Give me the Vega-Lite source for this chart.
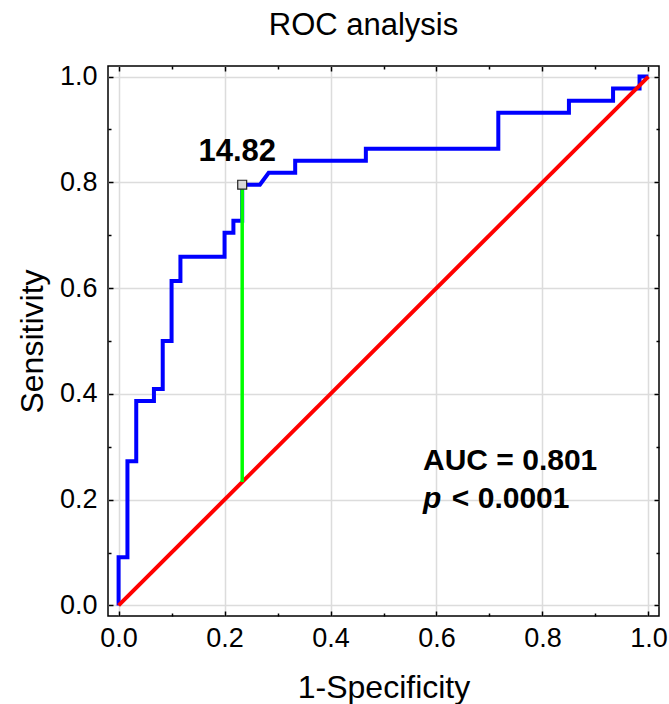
{
  "$schema": "https://vega.github.io/schema/vega-lite/v6.json",
  "width": 551,
  "height": 550,
  "autosize": {"type": "none"},
  "padding": {"left": 108, "top": 66, "right": 10, "bottom": 88},
  "background": "white",
  "title": {
    "text": "ROC analysis",
    "font": "Liberation Sans",
    "fontSize": 31,
    "fontWeight": "normal",
    "color": "black",
    "anchor": "middle",
    "baseline": "alphabetic",
    "offset": -3,
    "dx": -20
  },
  "config": {
    "view": {"stroke": "black", "strokeWidth": 1.5},
    "font": "Liberation Sans"
  },
  "datasets": {
    "roc": [
      {"i": 0, "fpr": 0, "tpr": 0},
      {"i": 1, "fpr": 0, "tpr": 0.0909},
      {"i": 2, "fpr": 0.0167, "tpr": 0.0909},
      {"i": 3, "fpr": 0.0167, "tpr": 0.2727},
      {"i": 4, "fpr": 0.0333, "tpr": 0.2727},
      {"i": 5, "fpr": 0.0333, "tpr": 0.3864},
      {"i": 6, "fpr": 0.0667, "tpr": 0.3864},
      {"i": 7, "fpr": 0.0667, "tpr": 0.4091},
      {"i": 8, "fpr": 0.0833, "tpr": 0.4091},
      {"i": 9, "fpr": 0.0833, "tpr": 0.5},
      {"i": 10, "fpr": 0.1, "tpr": 0.5},
      {"i": 11, "fpr": 0.1, "tpr": 0.6136},
      {"i": 12, "fpr": 0.1167, "tpr": 0.6136},
      {"i": 13, "fpr": 0.1167, "tpr": 0.6591},
      {"i": 14, "fpr": 0.2, "tpr": 0.6591},
      {"i": 15, "fpr": 0.2, "tpr": 0.7045},
      {"i": 16, "fpr": 0.2167, "tpr": 0.7045},
      {"i": 17, "fpr": 0.2167, "tpr": 0.7273},
      {"i": 18, "fpr": 0.2333, "tpr": 0.7273},
      {"i": 19, "fpr": 0.2333, "tpr": 0.7955},
      {"i": 20, "fpr": 0.2667, "tpr": 0.7955},
      {"i": 21, "fpr": 0.2833, "tpr": 0.8182},
      {"i": 22, "fpr": 0.3333, "tpr": 0.8182},
      {"i": 23, "fpr": 0.3333, "tpr": 0.8409},
      {"i": 24, "fpr": 0.4667, "tpr": 0.8409},
      {"i": 25, "fpr": 0.4667, "tpr": 0.8636},
      {"i": 26, "fpr": 0.7167, "tpr": 0.8636},
      {"i": 27, "fpr": 0.7167, "tpr": 0.9318},
      {"i": 28, "fpr": 0.85, "tpr": 0.9318},
      {"i": 29, "fpr": 0.85, "tpr": 0.9545},
      {"i": 30, "fpr": 0.9333, "tpr": 0.9545},
      {"i": 31, "fpr": 0.9333, "tpr": 0.9773},
      {"i": 32, "fpr": 0.9833, "tpr": 0.9773},
      {"i": 33, "fpr": 0.9833, "tpr": 1},
      {"i": 34, "fpr": 1, "tpr": 1}
    ],
    "diag": [
      {"i": 0, "fpr": 0, "tpr": 0},
      {"i": 1, "fpr": 1, "tpr": 1}
    ],
    "cut": [
      {"fpr": 0.2333, "tpr": 0.7955, "base": 0.2333, "label": "14.82"}
    ],
    "notes": [
      {"fpr": 0.5746, "tpr": 0.256, "label": "AUC = 0.801"},
      {"fpr": 0.629, "tpr": 0.184, "label": "< 0.0001"}
    ],
    "pnote": [
      {"fpr": 0.5746, "tpr": 0.184, "label": "p"}
    ]
  },
  "resolve": {"axis": {"x": "independent", "y": "independent"}},
  "layer": [
    {
      "data": {"name": "roc"},
      "mark": {"type": "line", "color": "#0000ff", "strokeWidth": 4, "strokeJoin": "miter", "clip": true},
      "encoding": {
        "x": {
          "field": "fpr", "type": "quantitative",
          "scale": {"domain": [-0.02, 1.02], "nice": false, "zero": false},
          "axis": {
            "orient": "bottom",
            "values": [0, 0.1, 0.2, 0.3, 0.4, 0.5, 0.6, 0.7, 0.8, 0.9, 1],
            "labelExpr": "round(datum.value*10)%2==0 ? format(datum.value,'.1f') : ''",
            "domain": false,
            "grid": true,
            "gridColor": "#dcdcdc",
            "gridWidth": 1.5,
            "gridOpacity": {"condition": {"test": "round(datum.value*10)%2==1", "value": 0}, "value": 1},
            "tickColor": "black",
            "tickWidth": 1.5,
            "tickSize": {"condition": {"test": "round(datum.value*10)%2==1", "value": -3}, "value": -5},
            "labelFont": "Liberation Sans",
            "labelFontSize": 27,
            "labelColor": "black",
            "labelPadding": 14,
            "labelFlush": false,
            "labelOverlap": false,
            "title": "1-Specificity",
            "titleFont": "Liberation Sans",
            "titleFontSize": 32,
            "titleFontWeight": "normal",
            "titleColor": "black",
            "titleBaseline": "alphabetic",
            "titleY": 81
          }
        },
        "y": {
          "field": "tpr", "type": "quantitative",
          "scale": {"domain": [-0.02, 1.02], "nice": false, "zero": false},
          "axis": {
            "orient": "left",
            "values": [0, 0.1, 0.2, 0.3, 0.4, 0.5, 0.6, 0.7, 0.8, 0.9, 1],
            "labelExpr": "round(datum.value*10)%2==0 ? format(datum.value,'.1f') : ''",
            "domain": false,
            "grid": true,
            "gridColor": "#dcdcdc",
            "gridWidth": 1.5,
            "gridOpacity": {"condition": {"test": "round(datum.value*10)%2==1", "value": 0}, "value": 1},
            "tickColor": "black",
            "tickWidth": 1.5,
            "tickSize": {"condition": {"test": "round(datum.value*10)%2==1", "value": -3}, "value": -5},
            "labelFont": "Liberation Sans",
            "labelFontSize": 27,
            "labelColor": "black",
            "labelPadding": 16,
            "labelFlush": false,
            "labelOverlap": false,
            "title": "Sensitivity",
            "titleFont": "Liberation Sans",
            "titleFontSize": 32,
            "titleFontWeight": "normal",
            "titleColor": "black",
            "titleBaseline": "alphabetic",
            "titleX": -66
          }
        },
        "order": {"field": "i", "type": "quantitative"}
      }
    },
    {
      "data": {"name": "diag"},
      "mark": {"type": "line", "color": "#ff0000", "strokeWidth": 4},
      "encoding": {
        "x": {"field": "fpr", "type": "quantitative", "axis": null},
        "y": {"field": "tpr", "type": "quantitative", "axis": null},
        "order": {"field": "i", "type": "quantitative"}
      }
    },
    {
      "data": {"name": "cut"},
      "mark": {"type": "rule", "color": "#00ff00", "strokeWidth": 3.5},
      "encoding": {
        "x": {"field": "fpr", "type": "quantitative", "axis": null},
        "y": {"field": "base", "type": "quantitative", "axis": null},
        "y2": {"field": "tpr"}
      }
    },
    {
      "data": {"name": "cut"},
      "mark": {"type": "point", "shape": "square", "size": 80, "filled": true, "fill": "#d8d8d8", "stroke": "#222222", "strokeWidth": 1.2, "opacity": 1},
      "encoding": {
        "x": {"field": "fpr", "type": "quantitative", "axis": null},
        "y": {"field": "tpr", "type": "quantitative", "axis": null}
      }
    },
    {
      "data": {"name": "cut"},
      "mark": {"type": "text", "font": "Liberation Sans", "fontSize": 31, "fontWeight": "bold", "color": "black", "align": "center", "baseline": "alphabetic", "dx": -5, "dy": -24},
      "encoding": {
        "x": {"field": "fpr", "type": "quantitative", "axis": null},
        "y": {"field": "tpr", "type": "quantitative", "axis": null},
        "text": {"field": "label"}
      }
    },
    {
      "data": {"name": "notes"},
      "mark": {"type": "text", "font": "Liberation Sans", "fontSize": 30, "fontWeight": "bold", "color": "black", "align": "left", "baseline": "alphabetic"},
      "encoding": {
        "x": {"field": "fpr", "type": "quantitative", "axis": null},
        "y": {"field": "tpr", "type": "quantitative", "axis": null},
        "text": {"field": "label"}
      }
    },
    {
      "data": {"name": "pnote"},
      "mark": {"type": "text", "font": "Liberation Sans", "fontSize": 30, "fontWeight": "bold", "fontStyle": "italic", "color": "black", "align": "left", "baseline": "alphabetic"},
      "encoding": {
        "x": {"field": "fpr", "type": "quantitative", "axis": null},
        "y": {"field": "tpr", "type": "quantitative", "axis": null},
        "text": {"field": "label"}
      }
    },
    {
      "data": {"name": "diag"},
      "mark": {"type": "point", "opacity": 0},
      "encoding": {
        "x": {
          "field": "fpr", "type": "quantitative",
          "axis": {
            "orient": "top",
            "values": [0, 0.1, 0.2, 0.3, 0.4, 0.5, 0.6, 0.7, 0.8, 0.9, 1],
            "labels": false, "domain": false, "grid": false, "title": null,
            "tickColor": "black", "tickWidth": 1.5,
            "tickSize": {"condition": {"test": "round(datum.value*10)%2==1", "value": -3}, "value": -5}
          }
        },
        "y": {
          "field": "tpr", "type": "quantitative",
          "axis": {
            "orient": "right",
            "values": [0, 0.1, 0.2, 0.3, 0.4, 0.5, 0.6, 0.7, 0.8, 0.9, 1],
            "labels": false, "domain": false, "grid": false, "title": null,
            "tickColor": "black", "tickWidth": 1.5,
            "tickSize": {"condition": {"test": "round(datum.value*10)%2==1", "value": -3}, "value": -5}
          }
        }
      }
    }
  ]
}
